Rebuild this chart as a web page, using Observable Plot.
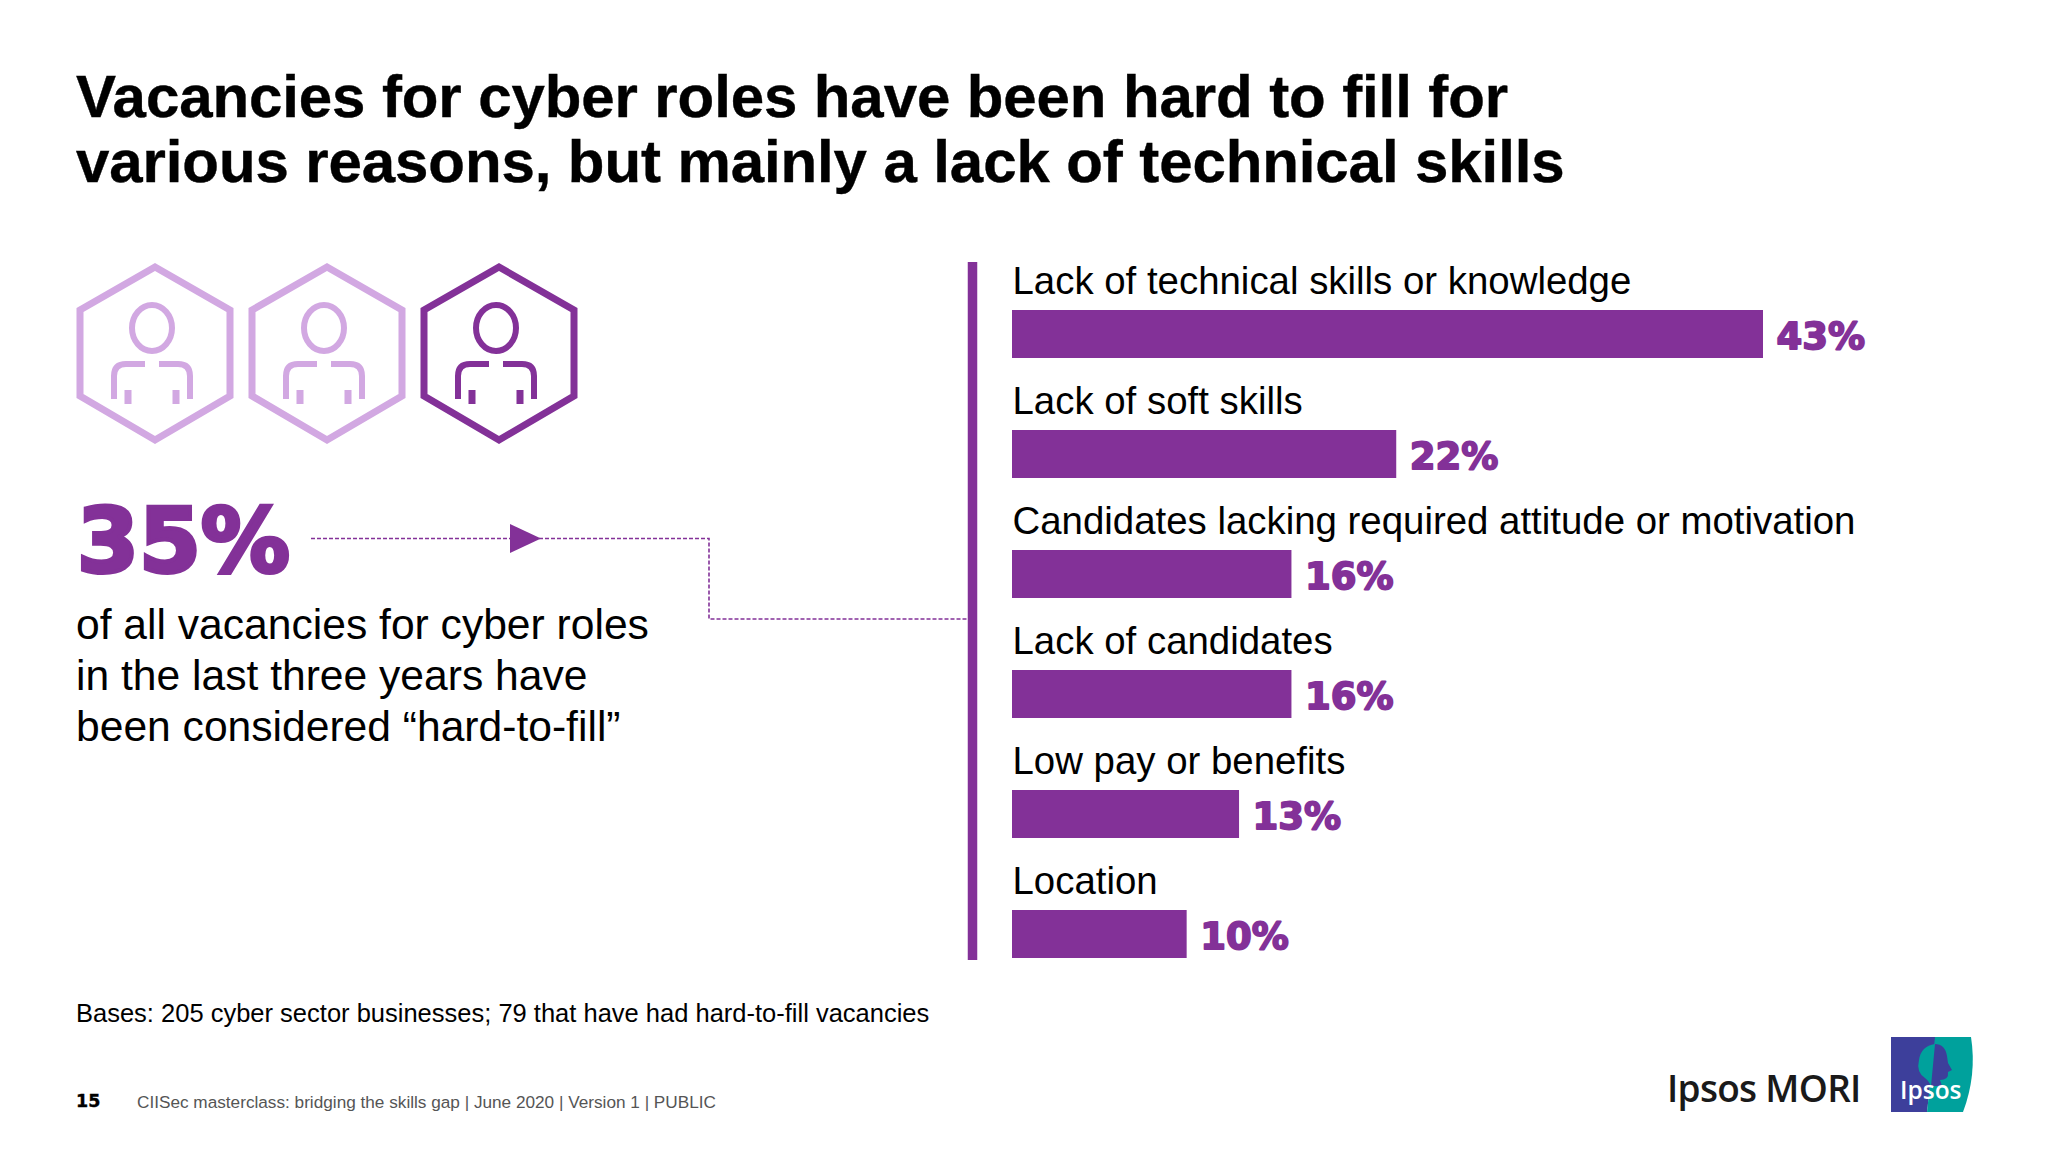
<!DOCTYPE html>
<html><head><meta charset="utf-8">
<script src="https://cdn.jsdelivr.net/npm/d3@7"></script>
<script src="https://cdn.jsdelivr.net/npm/@observablehq/plot@0.6"></script>
<style>
html,body{margin:0;padding:0;background:#fff;}
#page{position:relative;width:2048px;height:1152px;overflow:hidden;font-family:"Liberation Sans",Arial,sans-serif;color:#000;}
.t{position:absolute;white-space:nowrap;}
#chart{position:absolute;left:968px;top:262px;}
#decor{position:absolute;left:0;top:0;}
</style></head><body>
<div id="page">
<svg id="decor" width="2048" height="1152"></svg>
<div class="t" style="left:76px;top:64px;font-size:60px;font-weight:700;line-height:65px;letter-spacing:-.1px;-webkit-text-stroke:.4px #000">Vacancies for cyber roles have been hard to fill for<br>various reasons, but mainly a lack of technical skills</div>
<div class="t" style="left:77px;top:491px;font-size:89px;line-height:100px;font-weight:700;font-family:'DejaVu Sans',sans-serif;color:#833198;-webkit-text-stroke:4px #833198">35%</div>
<div class="t" style="left:76px;top:599px;font-size:42.6px;line-height:51px">of all vacancies for cyber roles<br>in the last three years have<br>been considered “hard-to-fill”</div>
<div class="t" style="left:76px;top:998px;font-size:25.5px;line-height:30px">Bases: 205 cyber sector businesses; 79 that have had hard-to-fill vacancies</div>
<div class="t" style="left:76px;top:1091px;font-size:17.500px;line-height:20px;font-weight:700;font-family:'DejaVu Sans',sans-serif;-webkit-text-stroke:.4px #000">15</div>
<div class="t" style="left:137px;top:1092px;font-size:17.2px;line-height:20px;color:#555">CIISec masterclass: bridging the skills gap | June 2020 | Version 1 | PUBLIC</div>
<div class="t" style="left:1667px;top:1064px;font-size:37px;line-height:48px;font-weight:600;font-family:'Open Sans',sans-serif;color:#1a1a1a;letter-spacing:-.7px">Ipsos MORI</div>
<div id="chart"></div>
</div>
<script>
const categories = ["Lack of technical skills or knowledge","Lack of soft skills","Candidates lacking required attitude or motivation","Lack of candidates","Low pay or benefits","Location"];
const values = [43,22,16,16,13,10];
const purple = "#833198", lilac = "#d2a8e2";

const rows = categories.map((c,i)=>({category:c,value:values[i],label:values[i]+"%"}));
const chart = Plot.plot({
  width:1080,height:698,margin:0,
  style:{background:"transparent",fontFamily:"'Liberation Sans',Arial,sans-serif",overflow:"visible"},
  x:{domain:[0,43],range:[44,795],axis:null},
  y:{domain:categories,range:[-24,696],padding:0,axis:null},
  marks:[
    Plot.ruleX([0],{stroke:purple,strokeWidth:9.500,dx:-40}),
    Plot.barX(rows,{x:"value",y:"category",fill:purple,insetTop:72,insetBottom:0}),
    Plot.text(rows,{x:()=>0,y:"category",text:"category",textAnchor:"start",fontSize:38.4,fill:"#000",dy:-17}),
    Plot.text(rows,{x:"value",y:"category",text:"label",textAnchor:"start",fontSize:37,fontWeight:700,fontFamily:"'DejaVu Sans',sans-serif",fill:purple,stroke:purple,strokeWidth:1.8,dx:13,dy:39})
  ]
});
document.getElementById("chart").appendChild(chart);

// decorative graphics
const decor=d3.select("#decor");
function person(cx,color){
  const g=decor.append("g").attr("fill","none").attr("stroke",color);
  g.append("path").attr("stroke-width",7).attr("stroke-linejoin","miter")
   .attr("d",`M${cx} 267L${cx+75} 310V396L${cx} 440L${cx-75} 396V310Z`);
  const c=cx-3;
  g.append("ellipse").attr("cx",c).attr("cy",328).attr("rx",20).attr("ry",23).attr("stroke-width",6);
  g.append("path").attr("stroke-width",6).attr("d",`M${c-7} 364H${c-26}Q${c-38} 364 ${c-38} 376V399M${c+7} 364H${c+26}Q${c+38} 364 ${c+38} 376V399`);
  g.append("path").attr("stroke-width",7).attr("d",`M${c-24} 390V404M${c+24} 390V404`);
}
person(155,lilac);person(327,lilac);person(499,purple);
decor.append("path").attr("fill","none").attr("stroke",purple).attr("stroke-width",1.6).attr("stroke-dasharray","4 2")
  .attr("d","M311 538.500H709V619H968");
decor.append("path").attr("fill",purple).attr("d","M510 524L541 538.500L510 553Z");
// Ipsos logo
decor.append("path").attr("fill","#3d3f9b").attr("d","M1891 1037H1936L1927 1112H1891Z");
decor.append("path").attr("fill","#00a19c").attr("d","M1935 1037H1971Q1977 1075 1963 1112H1927Z");
decor.append("path").attr("fill","#00a19c").attr("d","M1935 1044Q1921 1046 1919 1060Q1916 1072 1925 1078Q1930 1082 1931 1087L1935 1084Z");
decor.append("path").attr("fill","#3d3f9b").attr("d","M1935 1044Q1945 1044 1947 1056L1948 1063L1952 1070L1948 1072Q1949 1080 1940 1080L1942 1086L1931 1086Z");
decor.append("text").attr("x",1900).attr("y",1099).attr("fill","#fff").attr("font-family","'Open Sans',sans-serif").attr("font-weight",600).attr("font-size",24.500).text("Ipsos");
</script>
</body></html>
